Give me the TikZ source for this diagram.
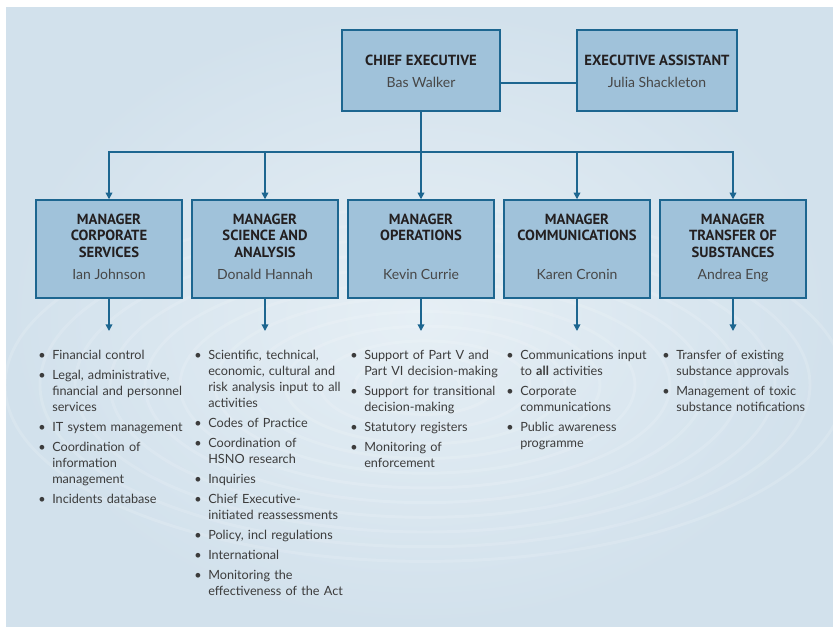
\documentclass[tikz,border=0pt]{standalone}
\usepackage{fontspec}
\setmainfont{Lato}
\newfontfamily\headfont{PT Sans}
\usetikzlibrary{arrows.meta}

\definecolor{panelblue}{HTML}{D2E1EC}
\definecolor{panellight}{HTML}{E6EFF5}
\definecolor{boxblue}{HTML}{A0C2DA}
\definecolor{linkblue}{HTML}{1D6690}
\definecolor{headtext}{HTML}{231F20}
\definecolor{nametext}{HTML}{474747}
\definecolor{listtext}{HTML}{3C3C3C}

% one bullet point with hanging indent
\newcommand{\litem}[1]{\hangindent=10.5pt\hangafter=1\noindent\makebox[10.5pt][l]{\textbullet}#1\par}

\tikzset{
  topbox/.style={draw=linkblue, line width=1.1pt, fill=boxblue, minimum width=118.5pt, minimum height=60.75pt, inner sep=0pt},
  mgrbox/.style={draw=linkblue, line width=1.1pt, fill=boxblue, minimum width=109.5pt, minimum height=73.5pt, inner sep=0pt},
  title/.style={font=\headfont\bfseries\fontsize{11}{12.4}\selectfont, text=headtext, align=center, inner sep=0pt},
  person/.style={font=\fontsize{10.5}{12}\selectfont, text=nametext, inner sep=0pt},
  duties/.style={font=\fontsize{9.5}{12}\selectfont, execute at begin node={\setlength{\parskip}{3pt}}, text=listtext, text width=112pt, align=left, inner sep=0pt, anchor=north west},
  link/.style={draw=linkblue, line width=1.1pt},
  down/.style={link, -{Triangle[length=5pt, width=5pt]}},
}

\begin{document}
\begin{tikzpicture}[x=0.75pt, y=-0.75pt]
\useasboundingbox (0,0) rectangle (833,626);

% backdrop with ripples
\fill[white] (0,0) rectangle (833,626);
\shade[inner color=panellight, outer color=panelblue] (6,7) rectangle (833,626);
\begin{scope}
\clip (6,7) rectangle (833,626);
\foreach \r in {35,70,...,420}
  \draw[white, opacity=0.14, line width=2.2pt] (425,385) ellipse ({\r} and {0.42*\r});
\end{scope}

% top row
\node[topbox] (ce) at (421,70.5) {};
\node[title, anchor=north] (cet) at (421,54.5) {CHIEF EXECUTIVE};
\node[person, anchor=base] (cen) at (421,87) {Bas Walker};
\node[topbox, minimum width=120pt] (ea) at (657,70.5) {};
\node[title, anchor=north] (eat) at (657,54.5) {EXECUTIVE ASSISTANT};
\node[person, anchor=base] (ean) at (657,87) {Julia Shackleton};
\draw[link] (ce.east |- 0,83) -- (ea.west |- 0,83);

% managers
\node[mgrbox] (m1) at (109,249) {};
\node[mgrbox] (m2) at (265,249) {};
\node[mgrbox] (m3) at (421,249) {};
\node[mgrbox] (m4) at (577,249) {};
\node[mgrbox] (m5) at (733,249) {};

\node[title, anchor=north] (m1t) at (109,213.5) {MANAGER\\CORPORATE\\SERVICES};
\node[title, anchor=north] (m2t) at (265,213.5) {MANAGER\\SCIENCE AND\\ANALYSIS};
\node[title, anchor=north] (m3t) at (421,213.5) {MANAGER\\OPERATIONS};
\node[title, anchor=north] (m4t) at (577,213.5) {MANAGER\\COMMUNICATIONS};
\node[title, anchor=north] (m5t) at (733,213.5) {MANAGER\\TRANSFER OF\\SUBSTANCES};

\node[person, anchor=base] (m1n) at (109,279) {Ian Johnson};
\node[person, anchor=base] (m2n) at (265,279) {Donald Hannah};
\node[person, anchor=base] (m3n) at (421,279) {Kevin Currie};
\node[person, anchor=base] (m4n) at (577,279) {Karen Cronin};
\node[person, anchor=base] (m5n) at (733,279) {Andrea Eng};

% reporting lines
\coordinate (bus) at (421,152);
\draw[link] (ce.south) -- (bus);
\draw[down] (bus) -| (m1.north);
\draw[down] (bus) -| (m2.north);
\draw[down] (bus) -- (m3.north);
\draw[down] (bus) -| (m4.north);
\draw[down] (bus) -| (m5.north);

\coordinate (d1) at (109,331);
\coordinate (d2) at (265,331);
\coordinate (d3) at (421,331);
\coordinate (d4) at (577,331);
\coordinate (d5) at (733,331);
\foreach \i in {1,...,5}
  \draw[down] (m\i.south) -- (d\i);

% duties
\node[duties] (l1) at (38,350) {%
\litem{Financial control}
\litem{Legal, administrative,\newline financial and personnel\newline services}
\litem{IT system management}
\litem{Coordination of\newline information\newline management}
\litem{Incidents database}};
\node[duties] (l2) at (194,350) {%
\litem{Scientific, technical,\newline economic, cultural and\newline risk analysis input to all\newline activities}
\litem{Codes of Practice}
\litem{Coordination of\newline HSNO research}
\litem{Inquiries}
\litem{Chief Executive-\newline initiated reassessments}
\litem{Policy, incl regulations}
\litem{International}
\litem{Monitoring the\newline effectiveness of the Act}};
\node[duties] (l3) at (350,350) {%
\litem{Support of Part V and\newline Part VI decision-making}
\litem{Support for transitional\newline decision-making}
\litem{Statutory registers}
\litem{Monitoring of\newline enforcement}};
\node[duties] (l4) at (506,350) {%
\litem{Communications input\newline to \textbf{all} activities}
\litem{Corporate\newline communications}
\litem{Public awareness\newline programme}};
\node[duties] (l5) at (662,350) {%
\litem{Transfer of existing\newline substance approvals}
\litem{Management of toxic\newline substance notifications}};
\end{tikzpicture}
\end{document}
